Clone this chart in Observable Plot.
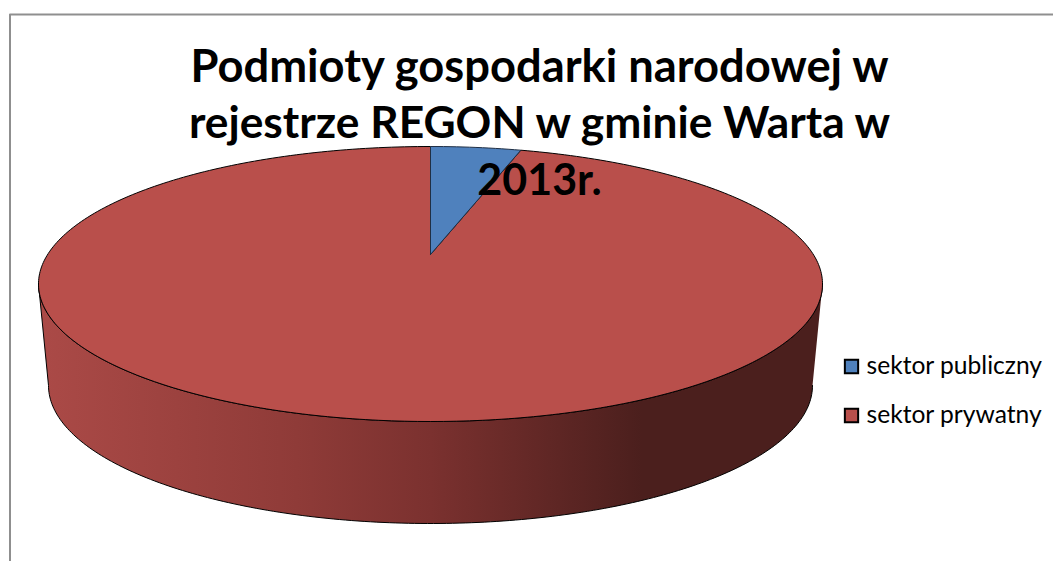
<!DOCTYPE html>
<html><head><meta charset="utf-8">
<script src="https://cdn.jsdelivr.net/npm/d3@7"></script>
<script src="https://cdn.jsdelivr.net/npm/@observablehq/plot@0.6"></script>
<style>html,body{margin:0;padding:0;background:#fff}svg{display:block}</style>
</head><body><div id="chart"></div>
<script>
const categories = ["sektor publiczny", "sektor prywatny"];
const shares = [3.7, 96.3];
const colors = ["#4f81bd", "#b94f4b"];
const titleLines = ["Podmioty gospodarki narodowej w", "rejestrze REGON w gminie Warta w", "2013r."];

const topRim = {cx: 430, cy: 283.5, rx: 392, ry: 137.5};
const lowRim = {cx: 430, cy: 385, rx: 382, ry: 138};
const apex = {x: 430, y: 254};
const rimPoint = (r, t) => ({x: r.cx + r.rx * Math.sin(t), y: r.cy - r.ry * Math.cos(t)});
const arc = (r, a, b) => {
  const n = Math.max(2, Math.ceil(Math.abs(b - a) * 60));
  return d3.range(n + 1).map(i => rimPoint(r, a + (b - a) * i / n));
};
const total = d3.sum(shares);
let acc = 0;
const slices = shares.map((v, i) => {
  const a = acc / total * 2 * Math.PI; acc += v;
  const b = acc / total * 2 * Math.PI;
  return {color: colors[i], pts: [apex, ...arc(topRim, a, b), apex]};
});
const side = [...arc(topRim, Math.PI / 2, 3 * Math.PI / 2), ...arc(lowRim, 3 * Math.PI / 2, Math.PI / 2)];
const XY = {x: "x", y: "y"};

const defs = () => {
  const d = d3.create("svg:defs");
  const g = d.append("linearGradient").attr("id", "sideShade");
  [[0, "#ab4a47"], [0.33, "#8f3b38"], [0.5, "#7b312f"], [0.77, "#4b1f1d"], [1, "#4b1f1d"]]
    .forEach(([o, c]) => g.append("stop").attr("offset", o).attr("stop-color", c));
  return d.node();
};

const frame = [{x: 1053, y: 14}, {x: 9.5, y: 14}, {x: 9.5, y: 561}];
const font = "Lato, Carlito, sans-serif";
const legend = categories.map((name, i) => ({name, color: colors[i], y: 366 + i * 49}));

document.getElementById("chart").append(Plot.plot({
  width: 1053, height: 561, margin: 0,
  x: {domain: [0, 1053], range: [0, 1053], axis: null},
  y: {domain: [0, 561], range: [0, 561], axis: null},
  marks: [
    defs,
    Plot.line(frame, {...XY, stroke: "#8f8f8f", strokeWidth: 2}),
    Plot.line(side, {...XY, fill: "url(#sideShade)", stroke: "#000", strokeWidth: 1}),
    Plot.line(slices[1].pts, {...XY, fill: slices[1].color, stroke: "#000", strokeWidth: 1}),
    Plot.line(slices[0].pts, {...XY, fill: slices[0].color, stroke: "#1f2f45", strokeWidth: 1}),
    Plot.text(titleLines, {
      x: () => 539, y: (d, i) => [67, 123, 181][i], text: d => d,
      fontFamily: font, fontWeight: 700, fontSize: (d, i) => [45.3, 44.3, 43][i], fill: "#000", textAnchor: "middle"
    }),
    Plot.dot(legend, {x: () => 851, y: "y", symbol: "square", r: 7.5, fill: "color", stroke: "#000", strokeWidth: 2}),
    Plot.text(legend, {
      x: () => 866, y: "y", text: "name", textAnchor: "start",
      fontFamily: font, fontSize: 24.6, fill: "#000"
    })
  ]
}));
</script></body></html>
